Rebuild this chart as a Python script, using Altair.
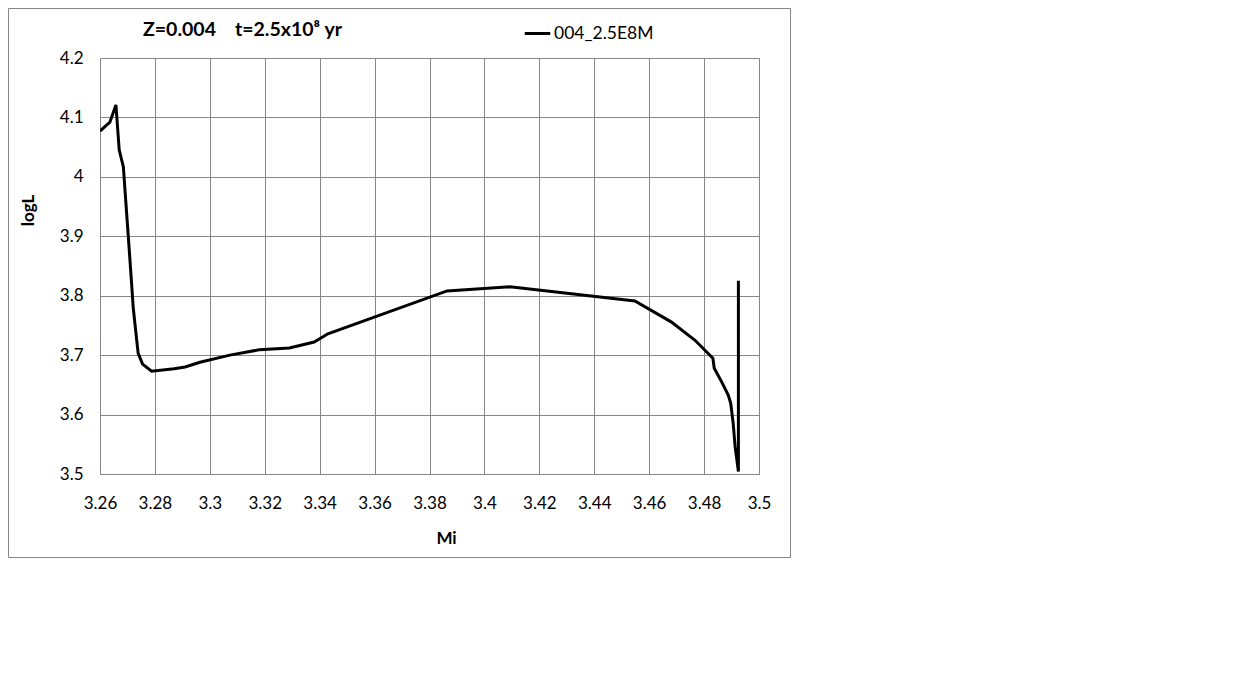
import altair as alt
import pandas as pd

mi = [3.2600, 3.2636, 3.2658, 3.2670, 3.2685, 3.2697, 3.2706, 3.2715, 3.2721, 3.2727,
      3.2739, 3.2755, 3.2788, 3.2870, 3.2910, 3.2964, 3.3073, 3.3180, 3.3290, 3.3380,
      3.3430, 3.3864, 3.4093, 3.4548, 3.4680, 3.4767, 3.4832, 3.4837, 3.4864, 3.4888,
      3.4897, 3.4906, 3.4913, 3.4925, 3.4925]
logL = [4.077, 4.092, 4.121, 4.045, 4.017, 3.939, 3.880, 3.821, 3.780, 3.754,
        3.703, 3.685, 3.673, 3.677, 3.680, 3.688, 3.700, 3.709, 3.712, 3.722,
        3.736, 3.808, 3.815, 3.791, 3.756, 3.725, 3.695, 3.678, 3.655, 3.633,
        3.619, 3.585, 3.546, 3.504, 3.825]
series_name = "004_2.5E8M"
x_ticks = [3.26, 3.28, 3.3, 3.32, 3.34, 3.36, 3.38, 3.4, 3.42, 3.44, 3.46, 3.48, 3.5]
y_ticks = [3.5, 3.6, 3.7, 3.8, 3.9, 4.0, 4.1, 4.2]
title_parts = ["Z=0.004", "t=2.5x10\u2078 yr"]
title_x = [43, 135]

df = pd.DataFrame({"Mi": mi, "logL": logL, "idx": list(range(len(mi))), "series": series_name})

FONT = "Lato"
GRID = "#868686"

W, H = 659, 416

line = alt.Chart(df).mark_line(strokeWidth=3, clip=True).encode(
    x=alt.X("Mi:Q", scale=alt.Scale(domain=[3.26, 3.5], nice=False, zero=False),
            axis=alt.Axis(values=x_ticks, format="~g", title="Mi", grid=True, gridColor=GRID, gridWidth=1,
                          ticks=False, domainColor=GRID, labelFontSize=17, labelFont=FONT,
                          labelColor="#000", labelPadding=21, titleFont=FONT, titleFontSize=17,
                          titleFontWeight="bold", titleColor="#000",
                          titleX=346, titleY=64, titleBaseline="middle", titleAlign="center",
                          labelFlush=False)),
    y=alt.Y("logL:Q", scale=alt.Scale(domain=[3.5, 4.2], nice=False, zero=False),
            axis=alt.Axis(values=y_ticks, format="~g", title="logL", grid=True, gridColor=GRID, gridWidth=1,
                          ticks=False, domainColor=GRID, labelFontSize=17, labelFont=FONT,
                          labelColor="#000", labelPadding=17, titleFont=FONT, titleFontSize=17,
                          titleFontWeight="bold", titleColor="#000",
                          titleX=-72, titleY=152, titleBaseline="middle", titleAlign="center",
                          titleAngle=270, labelFlush=False)),
    order="idx:Q",
    color=alt.Color("series:N", scale=alt.Scale(range=["#000000"]),
                    legend=alt.Legend(orient="none", legendX=423, legendY=-39, title=None,
                                      symbolType="stroke", symbolStrokeWidth=3, symbolSize=650,
                                      labelFont=FONT, labelFontSize=17.5, labelColor="#000",
                                      padding=0, symbolOffset=0, labelOffset=2)),
)

title = alt.Chart(pd.DataFrame({"t": title_parts, "px": title_x})).mark_text(
    font=FONT, fontSize=19.5, fontWeight="bold", align="left", baseline="middle", color="#000"
).encode(x=alt.X("px:Q", scale=None), y=alt.value(-28), text="t:N")

border = alt.Chart(pd.DataFrame({"a": [0]})).mark_rect(
    fill=None, stroke=GRID, strokeWidth=1, clip=False
).encode(x=alt.value(-91.5), x2=alt.value(690.5), y=alt.value(-49.5), y2=alt.value(499.5))

chart = alt.layer(border, line, title).properties(
    width=W, height=H,
    autosize=alt.AutoSizeParams(type="none"),
    padding={"left": 92, "top": 50, "right": 40, "bottom": 120},
).configure_view(stroke=GRID, strokeWidth=1).configure(background="white")

chart.save("out.html", embed_options={"renderer": "svg", "actions": False})
